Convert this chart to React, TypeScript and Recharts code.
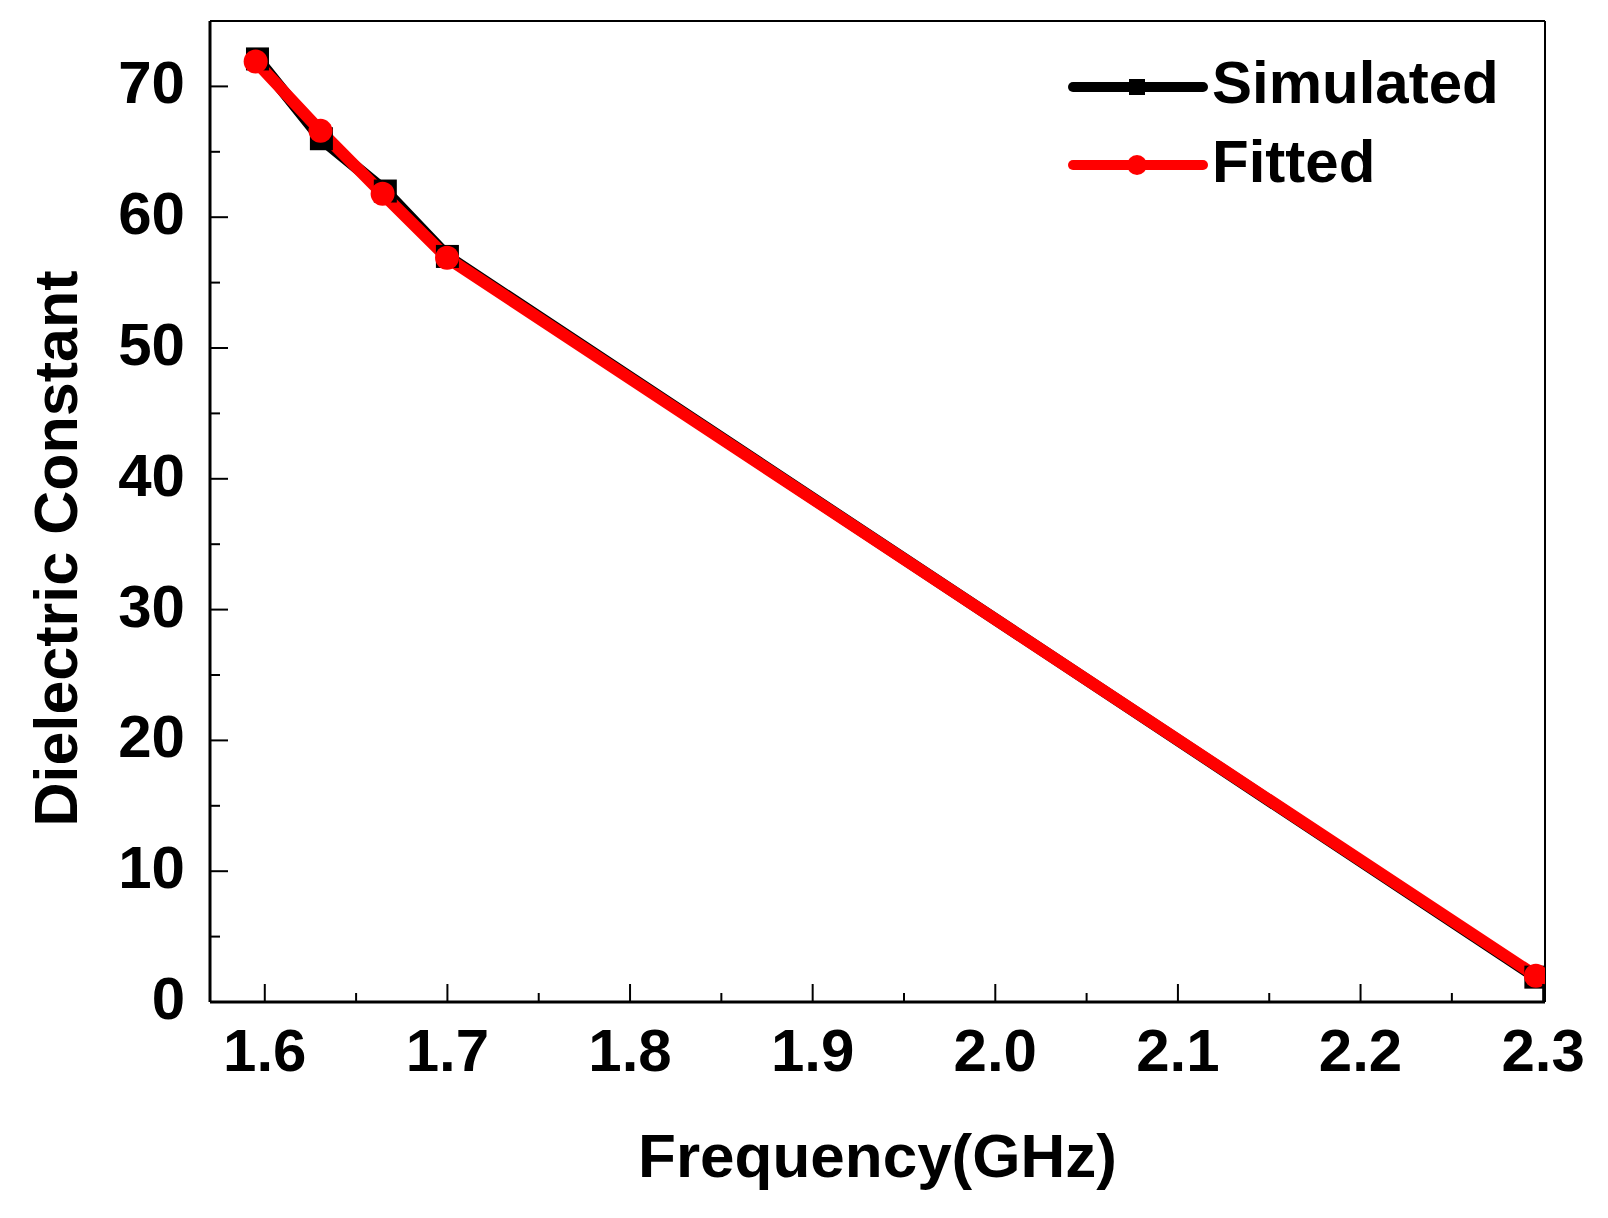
import React from 'react';
import { LineChart, Line, XAxis, YAxis, Legend, ReferenceLine } from 'recharts';

// frequency (GHz) / dielectric constant
const simulatedFreq = [1.596, 1.631, 1.666, 1.7, 2.296];
const simulatedEps = [72.1, 66.0, 62.0, 57.0, 1.9];
const fittedFreq = [1.595, 1.6305, 1.6645, 1.6998, 2.296];
const fittedEps = [71.9, 66.6, 61.8, 56.9, 2.0];

const seriesNames = ['Simulated', 'Fitted'];

const xMajor = [1.6, 1.7, 1.8, 1.9, 2.0, 2.1, 2.2, 2.3];
const xTickLabels = ['1.6', '1.7', '1.8', '1.9', '2.0', '2.1', '2.2', '2.3'];
const xMinor = [1.65, 1.75, 1.85, 1.95, 2.05, 2.15, 2.25];
const yMajor = [0, 10, 20, 30, 40, 50, 60, 70];
const yTickLabels = ['0', '10', '20', '30', '40', '50', '60', '70'];
const yMinor = [5, 15, 25, 35, 45, 55, 65];

const simulated = simulatedFreq.map((x, i) => ({ x, y: simulatedEps[i] }));
const fitted = fittedFreq.map((x, i) => ({ x, y: fittedEps[i] }));

const FONT = '"Liberation Sans", Arial, sans-serif';

const isMajor = (list: number[], v: number) => list.findIndex((m) => Math.abs(m - v) < 1e-6);

const XTick = (props: any) => {
    const { x, y, payload } = props;
    const idx = isMajor(xMajor, payload.value);
    return (
        <g>
            <line x1={x} x2={x} y1={y} y2={y - (idx >= 0 ? 18 : 9)} stroke="#000" strokeWidth={2} />
            {idx >= 0 && (
                <text x={x} y={y + 69} textAnchor="middle" fontFamily={FONT} fontWeight="bold" fontSize={60} fill="#000">
                    {xTickLabels[idx]}
                </text>
            )}
        </g>
    );
};

const YTick = (props: any) => {
    const { x, y, payload } = props;
    const idx = isMajor(yMajor, payload.value);
    return (
        <g>
            <line x1={x} x2={x + (idx >= 0 ? 18 : 10)} y1={y} y2={y} stroke="#000" strokeWidth={2} />
            {idx >= 0 && (
                <text x={x - 25} y={y + 17} textAnchor="end" fontFamily={FONT} fontWeight="bold" fontSize={60} fill="#000">
                    {yTickLabels[idx]}
                </text>
            )}
        </g>
    );
};

const XTitle = (props: any) => {
    const vb = props.viewBox;
    return (
        <text x={vb.x + vb.width / 2} y={vb.y + 175} textAnchor="middle" fontFamily={FONT} fontWeight="bold" fontSize={62} fill="#000">
            Frequency(GHz)
        </text>
    );
};

const YTitle = (props: any) => {
    const vb = props.viewBox;
    const cy = vb.y + vb.height / 2 + 37;
    return (
        <text transform={`translate(${vb.x + 69},${cy}) rotate(-90)`} textAnchor="middle" fontFamily={FONT} fontWeight="bold" fontSize={61} fill="#000">
            Dielectric Constant
        </text>
    );
};

const renderLegend = (props: any) => {
    const items = [...(props.payload || [])].sort(
        (a: any, b: any) => seriesNames.indexOf(a.value) - seriesNames.indexOf(b.value)
    );
    return (
        <svg width={480} height={170}>
            {items.map((entry: any, i: number) => {
                const cy = 47 + i * 78;
                return (
                    <g key={entry.value}>
                        <line x1={13} x2={143} y1={cy} y2={cy} stroke={entry.color} strokeWidth={10} strokeLinecap="round" />
                        {entry.type === 'square' ? (
                            <rect x={69} y={cy - 8} width={16} height={16} fill={entry.color} />
                        ) : (
                            <circle cx={77} cy={cy} r={10} fill={entry.color} />
                        )}
                        <text x={152} y={cy + 16 + i} fontFamily={FONT} fontWeight="bold" fontSize={60} fill="#000">
                            {entry.value}
                        </text>
                    </g>
                );
            })}
        </svg>
    );
};

const SquareDot = (props: any) => {
    const { cx, cy, index } = props;
    return <rect key={`sq-${index}`} x={cx - 11.5} y={cy - 11.5} width={23} height={23} fill="#000" />;
};

export default function App() {
    return (
        <div style={{ width: 1600, height: 1210, background: '#fff' }}>
            <LineChart width={1600} height={1210} margin={{ top: 13, right: 63, left: 0, bottom: 0 }}>
                <XAxis
                    type="number"
                    dataKey="x"
                    domain={[1.57, 2.301]}
                    allowDataOverflow
                    ticks={[...xMajor, ...xMinor].sort((a, b) => a - b)}
                    interval={0}
                    tickSize={0}
                    tickMargin={0}
                    tickLine={false}
                    tick={<XTick />}
                    axisLine={{ stroke: '#000', strokeWidth: 3 }}
                    height={216}
                    label={<XTitle />}
                />
                <YAxis
                    type="number"
                    domain={[0, 75]}
                    allowDataOverflow
                    ticks={[...yMajor, ...yMinor].sort((a, b) => a - b)}
                    interval={0}
                    tickSize={0}
                    tickMargin={0}
                    tickLine={false}
                    tick={<YTick />}
                    axisLine={{ stroke: '#000', strokeWidth: 3 }}
                    width={202}
                    label={<YTitle />}
                />
                <ReferenceLine y={75} stroke="#000" strokeWidth={2} />
                <ReferenceLine x={2.301} stroke="#000" strokeWidth={2} />
                <Legend
                    layout="vertical"
                    align="center"
                    verticalAlign="middle"
                    content={renderLegend}
                    wrapperStyle={{ left: 1052, top: 32, width: 480 }}
                />
                <Line
                    data={simulated}
                    dataKey="y"
                    name={seriesNames[0]}
                    type="linear"
                    stroke="#000"
                    strokeWidth={12}
                    legendType="square"
                    dot={<SquareDot />}
                    activeDot={false}
                    isAnimationActive={false}
                />
                <Line
                    data={fitted}
                    dataKey="y"
                    name={seriesNames[1]}
                    type="linear"
                    stroke="#ff0000"
                    strokeWidth={12}
                    legendType="circle"
                    dot={{ r: 12, fill: '#ff0000', stroke: '#ff0000', strokeWidth: 0 }}
                    activeDot={false}
                    isAnimationActive={false}
                />
            </LineChart>
        </div>
    );
}
